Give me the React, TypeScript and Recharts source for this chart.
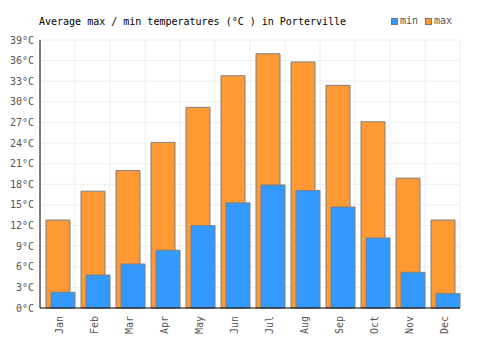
import React from 'react';
import { BarChart, Bar, XAxis, YAxis, CartesianGrid, Rectangle } from 'recharts';

const months = ['Jan', 'Feb', 'Mar', 'Apr', 'May', 'Jun', 'Jul', 'Aug', 'Sep', 'Oct', 'Nov', 'Dec'];
const minTemps = [2.3, 4.8, 6.4, 8.4, 12.0, 15.3, 17.9, 17.1, 14.7, 10.2, 5.2, 2.1];
const maxTemps = [12.8, 17.0, 20.0, 24.1, 29.2, 33.8, 37.0, 35.8, 32.4, 27.1, 18.9, 12.8];
const yTicks = [0, 3, 6, 9, 12, 15, 18, 21, 24, 27, 30, 33, 36, 39];

const data = months.map((month, i) => ({ month, min: minTemps[i], max: maxTemps[i] }));

const font = "'DejaVu Sans Mono', monospace";
const labelColor = '#555';

// the original draws each pair a little right of the band centre
const ShiftedBar = (props: any) => <Rectangle {...props} x={props.x + 3} />;

// vertical grid lines sit on the category boundaries, not the centres
const boundaryLines = ({ offset }: any) =>
  Array.from({ length: months.length + 1 }, (_, i) => offset.left + (i * offset.width) / months.length);

const LegendItem: React.FC<{ color: string; label: string }> = ({ color, label }) => (
  <span style={{ display: 'flex', alignItems: 'center', marginRight: 7 }}>
    <span
      style={{
        display: 'inline-block',
        width: 5,
        height: 5,
        background: color,
        border: '1px solid #777',
        marginRight: 2,
      }}
    />
    <span>{label}</span>
  </span>
);

const App: React.FC = () => {
  return (
    <div style={{ position: 'absolute', left: 0, top: 0, width: 500, height: 350, fontFamily: font }}>
      <div
        style={{
          position: 'absolute',
          left: 39,
          top: 17,
          fontSize: 10,
          lineHeight: '10px',
          color: '#000',
          whiteSpace: 'pre',
        }}
      >
        Average max / min temperatures (°C ) in Porterville
      </div>
      <div
        style={{
          position: 'absolute',
          left: 391,
          top: 16,
          fontSize: 10,
          lineHeight: '10px',
          color: labelColor,
          display: 'flex',
        }}
      >
        <LegendItem color="#3399ff" label="min" />
        <LegendItem color="#ff9933" label="max" />
      </div>
      <BarChart
        width={500}
        height={350}
        data={data}
        margin={{ top: 40, right: 40, bottom: 0, left: 0 }}
        barGap={-19}
      >
        <CartesianGrid stroke="#eeeeee" strokeWidth={1} verticalCoordinatesGenerator={boundaryLines} />
        <XAxis
          dataKey="month"
          height={42}
          axisLine={{ stroke: '#000' }}
          tickLine={false}
          interval={0}
          angle={-90}
          tick={{ fill: labelColor, fontSize: 10, fontFamily: font, textAnchor: 'end', capHeight: '0.55em' } as any}
        />
        <YAxis
          width={40}
          domain={[0, 39]}
          ticks={yTicks}
          interval={0}
          axisLine={{ stroke: '#000' }}
          tickLine={false}
          tickMargin={0}
          tickFormatter={(v) => `${v}°C`}
          tick={{ fill: labelColor, fontSize: 10, fontFamily: font }}
        />
        <Bar dataKey="max" fill="#ff9933" stroke="#808080" barSize={24} shape={ShiftedBar} isAnimationActive={false} />
        <Bar dataKey="min" fill="#3399ff" stroke="#808080" barSize={24} shape={ShiftedBar} isAnimationActive={false} />
      </BarChart>
    </div>
  );
};

export default App;
